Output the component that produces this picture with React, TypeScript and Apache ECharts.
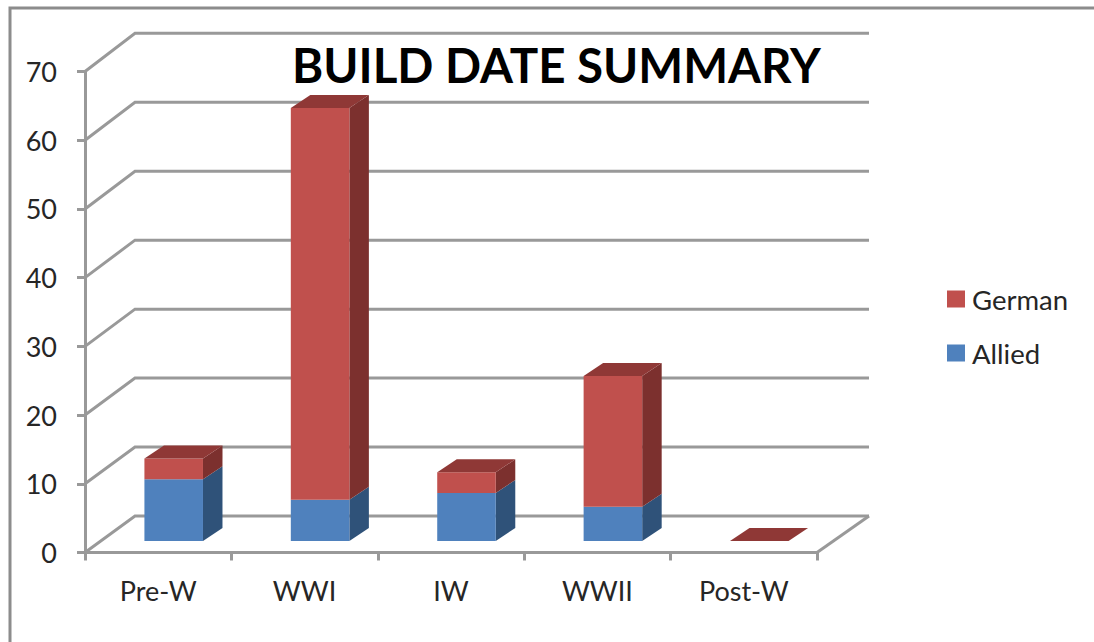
import React, { useEffect, useRef } from "react";
import * as echarts from "echarts";

const categories = ["Pre-W", "WWI", "IW", "WWII", "Post-W"];
const allied = [9, 6, 7, 5, 0];
const german = [3, 57, 3, 19, 0];
const yTicks = [0, 10, 20, 30, 40, 50, 60, 70];
const titleText = "BUILD DATE SUMMARY";

const FONT = "Lato, 'Open Sans', sans-serif";
const LINE = "#999999";

const alliedColors = { front: "#4f81bd", side: "#2f5279", top: "#3a6290" };
const germanColors = { front: "#c0504d", side: "#7c302e", top: "#8f3836" };

// Depth of the fake 3D box
const OFF_X = 15.5;
const OFF_Y = -11.5;
const SIDE_X = 19.5;
const SIDE_Y = -13;

function barRenderer(colors: { front: string; side: string; top: string }, isTop: boolean) {
  return (params: any, api: any) => {
    const cat = api.value(0);
    const start = api.value(1);
    const end = api.value(2);
    const band = api.size([1, 0])[0];
    const w = band * 0.4;
    const a = api.coord([cat, start]);
    const b = api.coord([cat, end]);
    const x0 = a[0] - w / 2 + OFF_X;
    const x1 = x0 + w;
    const y0 = a[1] + OFF_Y;
    const y1 = b[1] + OFF_Y;
    const children: any[] = [];
    if (end > start) {
      children.push({
        type: "polygon",
        shape: { points: [[x1, y0], [x1 + SIDE_X, y0 + SIDE_Y], [x1 + SIDE_X, y1 + SIDE_Y], [x1, y1]] },
        style: { fill: colors.side },
      });
      children.push({
        type: "rect",
        shape: { x: x0, y: y1, width: w, height: y0 - y1 },
        style: { fill: colors.front },
      });
    }
    if (isTop) {
      children.push({
        type: "polygon",
        shape: { points: [[x0, y1], [x1, y1], [x1 + SIDE_X, y1 + SIDE_Y], [x0 + SIDE_X, y1 + SIDE_Y]] },
        style: { fill: colors.top },
      });
    }
    return { type: "group", children };
  };
}

function frameRenderer(params: any, api: any) {
  const v = api.value(1);
  const sys = params.coordSys;
  const y = api.coord([0, v])[1];
  const xl = sys.x;
  const xr = sys.x + sys.width;
  const backY = y - 36.5 - (v / 70) * 1.7;
  const lineStyle = { stroke: LINE, lineWidth: 3, fill: "none" };
  const children: any[] = [
    {
      type: "polyline",
      shape: { points: [[xl, y], [xl + 50, backY], [xr + 52, backY]] },
      style: lineStyle,
    },
  ];
  if (v === 0) {
    children.push({
      type: "line",
      shape: { x1: xr, y1: y, x2: xr + 52, y2: backY },
      style: lineStyle,
    });
  }
  return { type: "group", children };
}

export default function App() {
  const ref = useRef<HTMLDivElement>(null);
  useEffect(() => {
    document.body.style.margin = "0";
    const chart = echarts.init(ref.current!, null, { renderer: "svg" });
    const alliedData = categories.map((_, i) => [i, 0, allied[i]]);
    const germanData = categories.map((_, i) => [i, allied[i], allied[i] + german[i]]);
    chart.setOption({
      animation: false,
      backgroundColor: "#ffffff",
      title: {
        text: titleText,
        left: 287,
        top: 35,
        textStyle: { fontFamily: FONT, fontWeight: "bold", fontSize: 47.5, color: "#000000" },
      },
      legend: {
        orient: "vertical",
        left: 942,
        top: 280,
        data: ["German", "Allied"],
        icon: "rect",
        itemWidth: 18,
        itemHeight: 17,
        itemGap: 26,
        itemStyle: { borderWidth: 0 },
        textStyle: { fontFamily: FONT, fontSize: 27.5, color: "#262626", padding: [0, 0, 0, 2] },
        selectedMode: false,
      },
      grid: { left: 85, right: 277, top: 71.5, bottom: 89.5 },
      xAxis: {
        type: "category",
        data: categories,
        boundaryGap: true,
        axisLine: { show: true, lineStyle: { color: LINE, width: 3 } },
        axisTick: { show: true, alignWithLabel: false, length: 8, lineStyle: { color: LINE, width: 3 } },
        axisLabel: { margin: 24, fontFamily: FONT, fontSize: 27, color: "#262626" },
      },
      yAxis: {
        type: "value",
        min: 0,
        max: 70,
        interval: 10,
        splitLine: { show: false },
        axisLine: { show: true, lineStyle: { color: LINE, width: 3 } },
        axisTick: { show: true, length: 8, lineStyle: { color: LINE, width: 3 } },
        axisLabel: { margin: 28, fontFamily: FONT, fontSize: 27, color: "#262626", padding: [3, 0, 0, 0] },
      },
      graphic: [
        {
          type: "polyline",
          shape: { points: [[10, 642], [10, 8], [1094, 8]] },
          style: { stroke: "#8c8c8c", lineWidth: 3, fill: "none" },
        },
      ],
      series: [
        {
          name: "frame",
          type: "custom",
          z: 1,
          clip: false,
          data: yTicks.map((v) => [0, v]),
          renderItem: frameRenderer,
          silent: true,
        },
        {
          name: "Allied",
          type: "custom",
          z: 3,
          clip: false,
          itemStyle: { color: alliedColors.front },
          encode: { x: 0, y: [1, 2] },
          data: alliedData,
          renderItem: barRenderer(alliedColors, false),
        },
        {
          name: "German",
          type: "custom",
          z: 4,
          clip: false,
          itemStyle: { color: germanColors.front },
          encode: { x: 0, y: [1, 2] },
          data: germanData,
          renderItem: barRenderer(germanColors, true),
        },
      ],
    });
    return () => chart.dispose();
  }, []);
  return <div ref={ref} style={{ position: "absolute", left: 0, top: 0, width: 1094, height: 642 }} />;
}
